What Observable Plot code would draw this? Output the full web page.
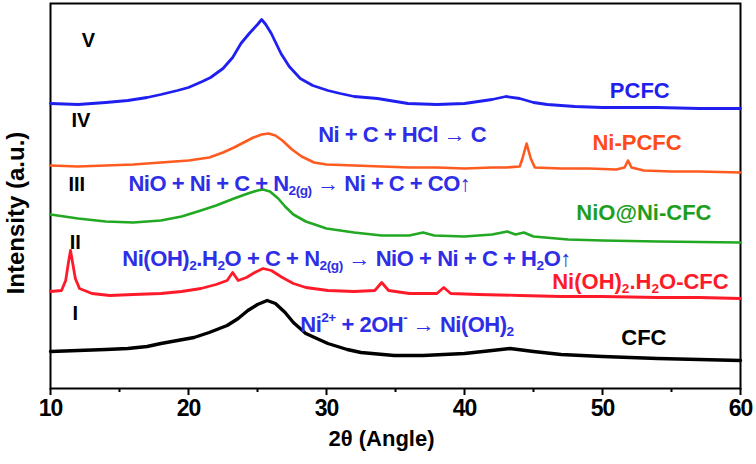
<!DOCTYPE html>
<html><head><meta charset="utf-8">
<script src="https://cdn.jsdelivr.net/npm/d3@7"></script>
<script src="https://cdn.jsdelivr.net/npm/@observablehq/plot@0.6"></script>
<style>body{margin:0;background:#fff}</style>
</head><body><div id="chart"></div>
<script>
// ---- data: [2θ (degrees), intensity (a.u., offset stack)] ----
const cfc = [[10,37],[12,38],[14,39],[15.6,40],[17,42],[18,45],[19.2,48],[20.4,51],[21.5,56],[22.8,63],[23.6,70],[24.3,78],[25,84],[25.7,88],[26.3,85],[27,76],[27.6,66],[28.5,55],[30.1,45],[31.5,39],[32.5,36],[34.9,33],[37,33],[40,35],[42,38],[43.3,40],[45,37],[47,34],[50,32],[54,30],[57,29],[60,28]];
const niohCfc = [[10,97],[10.8,98],[11.1,108],[11.3,126],[11.45,138],[11.6,126],[11.8,110],[12.1,100],[13,95],[14.3,93],[16,94],[18,95],[19.5,97],[20.9,100],[22,104],[22.8,108],[23.2,116],[23.6,108],[24.2,111],[24.8,116],[25.4,120],[26,118],[26.8,111],[27.6,105],[28.5,101],[30.1,98],[32,97],[33.5,98],[34,106],[34.5,98],[36,95],[38,95],[38.5,101],[39,95],[41,94],[44,93],[47,92],[50,92],[54,91],[57,91],[60,90]];
const nioNiCfc = [[10,174],[12,170],[14,167],[16,166],[18,168],[19.5,172],[20.9,178],[22,183],[23.3,190],[24.3,195],[25,198],[25.4,199],[25.9,197],[26.5,190],[27,182],[27.6,174],[28.5,167],[30,160],[32,156],[34,153],[36,153],[37,156],[37.8,153],[40,152],[42,154],[43.1,157],[43.7,154],[44.3,156],[45,152],[47.5,149],[50,148],[54,147],[60,146]];
const niPcfc = [[10,223],[12,222],[14,223],[16,224],[18,226],[20,228],[21.5,231],[22.5,236],[23.3,241],[24,246],[24.7,251],[25.3,254],[25.8,255],[26.3,253],[26.8,248],[27.5,239],[28.2,232],[29.1,226],[30,224],[32,223],[34,222],[36,221],[38,221],[40,220],[42,221],[43,221],[44,222],[44.2,230],[44.5,245],[44.8,230],[45.1,221],[47,220],[49,220],[51,219],[51.6,221],[51.85,228],[52.1,221],[53,218],[55,217],[57,217],[60,216]];
const pcfc = [[10,285],[12,284],[14,286],[15.6,288],[17,291],[18,294],[19.2,298],[20,301],[21,307],[21.6,311],[22.5,320],[23.2,331],[23.8,345],[24.4,355],[25,364],[25.3,369],[25.6,364],[26,355],[26.7,335],[27.3,322],[28.1,310],[29,303],[30.1,298],[31,295],[32,292],[33.7,290],[35.9,285],[38,284],[40,285],[41,287],[42,289],[43,292],[44,290],[45,286],[46,284],[48,282],[50,281],[54,281],[57,280],[60,280]];

const seriesNames = ["CFC", "Ni(OH)_2.H_2O-CFC", "NiO@Ni-CFC", "Ni-PCFC", "PCFC"];
const seriesData = [cfc, niohCfc, nioNiCfc, niPcfc, pcfc];

// curve labels (anchor in data coords)
const labelTheta = [53.0, 52.75, 53.0, 52.5, 52.7];
const labelI = [51, 107, 176, 246, 298];

// roman numerals
const romanText = ["I", "II", "III", "IV", "V"];
const romanTheta = [11.8, 11.8, 11.9, 12.2, 12.75];
const romanI = [75, 146, 204, 268, 348];

// reaction equations
const eqText = ["Ni^{2+} + 2OH^- → Ni(OH)_2",
  "Ni(OH)_2.H_2O + C + N_{2(g)} → NiO + Ni + C + H_2O↑",
  "NiO + Ni + C + N_{2(g)} → Ni + C + CO↑",
  "Ni + C + HCl → C"];
const eqTheta = [28.1, 15.2, 15.65, 29.4];
const eqI = [64, 130, 205, 254];

const majorTicks = [10, 20, 30, 40, 50, 60];
const minorTicks = [15, 25, 35, 45, 55];

// ---- build tables ----
const rows = seriesData.flatMap((s, k) => s.map(([t, v]) => ({series: seriesNames[k], theta: t, I: v})));
const labels = seriesNames.map((n, k) => ({series: n, theta: labelTheta[k], I: labelI[k]}));
const romans = romanText.map((r, k) => ({text: r, theta: romanTheta[k], I: romanI[k]}));
const eqs = eqText.map((e, k) => ({text: e, theta: eqTheta[k], I: eqI[k]}));

const colors = ["#000000", "#ff1a2a", "#22a822", "#ff5a1f", "#1f1ff0"];
const labelColors = ["#000000", "#ff1a2a", "#1e9e1e", "#ff4a1a", "#1f1ff0"];
const widths = [3.4, 2.8, 2.6, 2.6, 2.8];
const FONT = "'Liberation Sans', Arial, sans-serif";

const chart = Plot.plot({
  width: 756, height: 464,
  marginLeft: 50, marginRight: 16, marginTop: 3, marginBottom: 76,
  style: {fontFamily: FONT, background: "#fff"},
  x: {domain: [10, 60]},
  y: {domain: [0, 385], axis: null},
  color: {domain: seriesNames, range: colors},
  marks: [
    Plot.frame({stroke: "black", strokeWidth: 2}),
    Plot.axisX({ticks: majorTicks, tickSize: 7, tickPadding: 4, tickFormat: d => String(d),
      fontSize: 23, fontWeight: "bold", fill: "black", strokeWidth: 2, label: null}),
    Plot.axisX({ticks: minorTicks, tickSize: 4, tickFormat: () => "", strokeWidth: 2, label: null}),
    ...seriesNames.map((n, k) =>
      Plot.line(rows, {filter: d => d.series === n, x: "theta", y: "I", stroke: colors[k], strokeWidth: widths[k]})),
    Plot.text(labels, {x: "theta", y: "I", text: "series",
      fill: d => labelColors[seriesNames.indexOf(d.series)], fontSize: 22, fontWeight: "bold"}),
    Plot.text(romans, {x: "theta", y: "I", text: "text", fill: "black", fontSize: 20, fontWeight: "bold"}),
    Plot.text(eqs, {x: "theta", y: "I", text: "text", textAnchor: "start", fill: "#2e2ee6", fontSize: 22, fontWeight: "bold"}),
    Plot.text(["Intensity (a.u.)"], {frameAnchor: "left", textAnchor: "middle", dx: -34, dy: 17, rotate: -90, fontSize: 24, fontWeight: "bold", fill: "black"}),
    Plot.text(["2θ (Angle)"], {frameAnchor: "bottom", dy: 57, dx: -14, fontSize: 22, fontWeight: "bold", fill: "black"})
  ]
});
document.getElementById("chart").appendChild(chart);

// ---- rich text: _x / _{..} subscript, ^x / ^{..} superscript ----
function parseRich(s) {
  const out = []; let i = 0, buf = "";
  while (i < s.length) {
    const c = s[i];
    if (c === "_" || c === "^") {
      if (buf) { out.push({t: buf, k: 0}); buf = ""; }
      let tok;
      if (s[i + 1] === "{") { const j = s.indexOf("}", i); tok = s.slice(i + 2, j); i = j + 1; }
      else { tok = s[i + 1]; i += 2; }
      out.push({t: tok, k: c === "_" ? 1 : -1});
    } else { buf += c; i++; }
  }
  if (buf) out.push({t: buf, k: 0});
  return out;
}
const tightEqs = new Set([eqText[0], eqText[2], eqText[3]]);
d3.select(chart).selectAll("text").each(function () {
  const s = this.textContent;
  if (tightEqs.has(s)) d3.select(this).style("letter-spacing", "-0.5px");
  if (s === eqText[1]) d3.select(this).style("letter-spacing", "-0.45px");
  if (/^\d+$/.test(s)) d3.select(this).style("letter-spacing", "-1px");
  if (!/[_^]/.test(s)) return;
  const fs = parseFloat(getComputedStyle(this).fontSize) || 22;
  const node = d3.select(this);
  const parts = parseRich(s);
  node.text(null);
  let cur = 0;
  for (const p of parts) {
    const shift = p.k === 1 ? 0.22 * fs : p.k === -1 ? -0.42 * fs : 0;
    const ts = node.append("tspan").text(p.t);
    if (shift !== cur) ts.attr("dy", shift - cur);
    if (p.k !== 0) ts.attr("font-size", 0.62 * fs);
    cur = shift;
  }
});
</script></body></html>
